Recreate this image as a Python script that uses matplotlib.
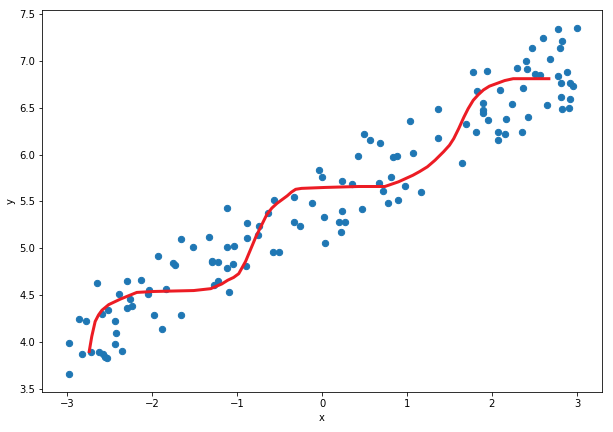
import numpy as np
import matplotlib
matplotlib.use('Agg')
import matplotlib.pyplot as plt

# scattered samples
x_pts = [-2.98, -2.98, -2.83, -2.86, -2.78, -2.72, -2.65, -2.62, -2.58, -2.56,
         -2.53, -2.59, -2.52, -2.44, -2.42, -2.44, -2.35, -2.39, -2.29, -2.26,
         -2.24, -2.30, -2.13, -2.04, -2.05, -1.93, -1.98, -1.88, -1.84, -1.75,
         -1.73, -1.66, -1.66, -1.52, -1.33, -1.30, -1.29, -1.23, -1.12, -1.12,
         -1.12, -1.23, -1.27, -1.09,
         -1.03, -1.05, -0.89, -0.88, -0.88, -0.74, -0.75, -0.63, -0.57, -0.58,
         -0.51, -0.33, -0.33, -0.26, -0.12, -0.04, 0.00, 0.02, 0.04, 0.23,
         0.23, 0.20, 0.27, 0.22, 0.35, 0.42, 0.49, 0.56, 0.68, 0.47,
         0.67, 0.72, 0.78, 0.89, 0.81, 0.84, 0.88, 1.03, 1.07, 0.98,
         1.17, 1.37, 1.36, 1.65, 1.70, 1.78, 1.94, 1.82, 1.81, 1.89,
         1.90, 1.89, 1.95, 2.07, 2.07, 2.15, 2.10, 2.17, 2.24, 2.35,
         2.42, 2.37, 2.29, 2.41, 2.40, 2.47, 2.51, 2.56, 2.60, 2.68,
         2.65, 2.78, 2.82, 2.80, 2.78, 2.88, 2.81, 2.92, 2.95, 2.81,
         2.92, 2.83, 2.91, 3.00]
y_pts = [3.66, 3.99, 3.87, 4.25, 4.22, 3.89, 4.63, 3.89, 3.87, 3.84,
         3.83, 4.30, 4.34, 4.23, 4.10, 3.98, 3.91, 4.51, 4.65, 4.46,
         4.39, 4.36, 4.66, 4.56, 4.51, 4.92, 4.29, 4.14, 4.57, 4.84,
         4.82, 5.10, 4.29, 5.01, 5.12, 4.87, 4.85, 4.85, 5.43, 5.01,
         4.79, 4.65, 4.61, 4.53,
         5.02, 4.83, 4.81, 5.11, 5.27, 5.24, 5.14, 5.38, 5.52, 4.96,
         4.96, 5.55, 5.28, 5.24, 5.48, 5.84, 5.76, 5.33, 5.06, 5.72,
         5.40, 5.28, 5.28, 5.17, 5.69, 5.99, 6.22, 6.16, 6.12, 5.42,
         5.70, 5.61, 5.48, 5.52, 5.76, 5.97, 5.99, 6.36, 6.02, 5.66,
         5.60, 6.49, 6.18, 5.91, 6.33, 6.88, 6.89, 6.68, 6.24, 6.55,
         6.48, 6.44, 6.37, 6.24, 6.16, 6.22, 6.69, 6.38, 6.54, 6.24,
         6.40, 6.71, 6.92, 6.91, 7.00, 7.14, 6.86, 6.85, 7.24, 7.02,
         6.53, 7.34, 7.21, 7.14, 6.84, 6.88, 6.76, 6.76, 6.73, 6.62,
         6.59, 6.49, 6.50, 7.35]

# fitted curve
x_fit = [-2.74, -2.71, -2.67, -2.63, -2.59, -2.51, -2.37, -2.18, -1.98, -1.75,
         -1.51, -1.31, -1.18, -1.11, -1.04, -0.98, -0.90, -0.84, -0.78, -0.71,
         -0.65, -0.59, -0.53, -0.47, -0.41, -0.36, -0.31, -0.24, 0.04, 0.43,
         0.74, 0.90, 1.07, 1.15, 1.24, 1.33, 1.43, 1.50, 1.55, 1.61,
         1.67, 1.72, 1.78, 1.84, 1.90, 1.97, 2.06, 2.15, 2.25, 2.45,
         2.67]
y_fit = [3.90, 4.06, 4.22, 4.29, 4.34, 4.40, 4.46, 4.53, 4.54, 4.545,
         4.55, 4.57, 4.62, 4.66, 4.69, 4.73, 4.86, 4.99, 5.12, 5.25,
         5.36, 5.43, 5.48, 5.52, 5.56, 5.60, 5.63, 5.64, 5.65, 5.66,
         5.66, 5.71, 5.78, 5.82, 5.87, 5.94, 6.03, 6.10, 6.17, 6.28,
         6.40, 6.49, 6.58, 6.64, 6.69, 6.73, 6.76, 6.79, 6.81, 6.81,
         6.81]

fig = plt.figure(figsize=(613 / 72, 432 / 72), dpi=72)
ax = fig.add_axes([0.0693, 0.0933, 0.912, 0.8836])

ax.scatter(x_pts, y_pts, s=40, color='#1f77b4')
ax.plot(x_fit, y_fit, color='#ec1c24', lw=3)

ax.set_xlim(-3.29, 3.29)
ax.set_ylim(3.471, 7.543)
ax.set_xlabel('x')
ax.set_ylabel('y')

fig.savefig('out.png', dpi=72)
